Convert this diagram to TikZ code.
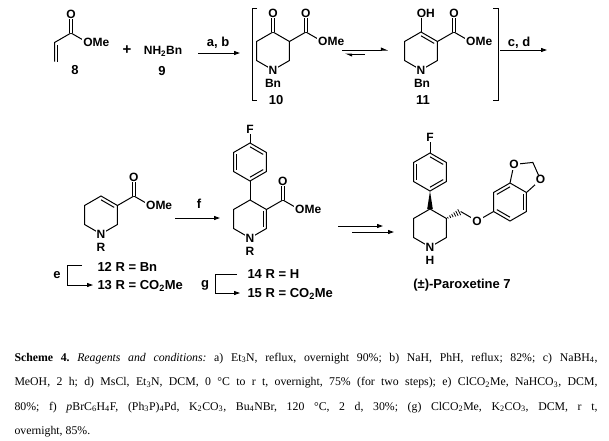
\documentclass[tikz,border=0pt]{standalone}
\usepackage{fontspec}
\setmainfont{Liberation Serif}
\newfontfamily\chemsans{Liberation Sans}
\usetikzlibrary{calc, arrows.meta, positioning}
\newcommand{\molfont}{\chemsans\bfseries\fontsize{12}{14}\selectfont}
\newcommand{\labfont}{\chemsans\bfseries\fontsize{13}{15}\selectfont}

\begin{document}
\begin{tikzpicture}[x=1pt, y=1pt, line width=1pt,
  atom/.style={fill=white, inner sep=1pt, font=\molfont},
  grp/.style={atom, anchor=west, xshift=-5.7pt},
  sub/.style={inner sep=0pt, font=\molfont},
  lab/.style={inner sep=0pt, font=\labfont},
  rxn/.style={-{Triangle[length=6pt,width=4pt]}},
  eqarrow/.style={-{Triangle[harpoon,length=6pt,width=5pt]}},
  dbl/.style={double, double distance=2.4pt}]
\useasboundingbox (0,0) rectangle (609,-440);

% ring atoms
\foreach \r/\cx/\cy in {A/273/-51, B/421/-51, C/101/-215, D/250/-219, E/250/-162, F/430/-228, G/430/-172, H/510/-202}{
  \coordinate (\r) at (\cx,\cy);
  \foreach \i/\a in {1/90, 2/30, 3/-30, 4/-90, 5/-150, 6/150}
    \coordinate (\r\i) at ($(\cx,\cy)+(\a:19)$);
}

% 8
\coordinate (c8a) at (71,-33); \coordinate (c8b) at ($(c8a)+(210:19)$); \coordinate (c8c) at ($(c8b)+(0,-19)$);
\coordinate (o8) at ($(c8a)+(0,19)$); \coordinate (me8) at ($(c8a)+(-30:19)$);
\draw (c8c) -- (c8b) -- (c8a) -- (me8);
\draw ($(c8b)+(3.4,-2.5)$) -- ($(c8c)+(3.4,0)$);
\draw[dbl] (c8a) -- (o8);
\node[atom] at (o8) {O}; \node[grp] at (me8) {OMe};
\node[lab] (n8) at (75,-70) {8};
\node[lab, font=\chemsans\bfseries\fontsize{15}{15}\selectfont] (plus) at (127,-50) {+};
\node[sub] (amine) at (163,-51) {NH\textsubscript{2}Bn};
\node[lab] (n9) at (162,-71) {9};

% a, b
\coordinate (ab1) at (198,-53); \coordinate (ab2) at (240,-53);
\draw[rxn] (ab1) -- (ab2);
\node[lab] (ab) at (218,-43) {a, b};

% brackets
\draw (257,-8) -- (252,-8) -- (252,-100) -- (257,-100);
\draw (493,-8) -- (498,-8) -- (498,-100) -- (493,-100);

% 10
\draw (A1) -- (A2) -- (A3) -- (A4) -- (A5) -- (A6) -- cycle;
\coordinate (k10) at ($(A1)+(0,19)$); \coordinate (e10) at ($(A2)+(30:19)$);
\coordinate (eo10) at ($(e10)+(0,19)$); \coordinate (em10) at ($(e10)+(-30:19)$);
\draw[dbl] (A1) -- (k10); \draw (A2) -- (e10) -- (em10); \draw[dbl] (e10) -- (eo10);
\node[atom] at (k10) {O}; \node[atom] at (eo10) {O}; \node[grp] at (em10) {OMe};
\node[atom] at (A4) {N}; \node[sub] at (273,-83) {Bn};
\node[lab] (n10) at (276,-100) {10};

% equilibrium
\coordinate (eq1) at (342,-50); \coordinate (eq2) at (388,-50);
\coordinate (eq3) at (365,-54); \coordinate (eq4) at (345,-54);
\draw[eqarrow] (eq1) -- (eq2); \draw[eqarrow] (eq3) -- (eq4);

% 11
\draw (B1) -- (B2) -- (B3) -- (B4) -- (B5) -- (B6) -- cycle;
\draw ($(B1)!.2!(B)$) -- ($(B2)!.2!(B)$);
\coordinate (oh11) at ($(B1)+(0,19)$); \coordinate (e11) at ($(B2)+(30:19)$);
\coordinate (eo11) at ($(e11)+(0,19)$); \coordinate (em11) at ($(e11)+(-30:19)$);
\draw (B1) -- (oh11); \draw (B2) -- (e11) -- (em11); \draw[dbl] (e11) -- (eo11);
\node[grp] at (oh11) {OH}; \node[atom] at (eo11) {O}; \node[grp] at (em11) {OMe};
\node[atom] at (B4) {N}; \node[sub] at (422,-83) {Bn};
\node[lab] (n11) at (423,-100) {11};

% c, d
\coordinate (cd1) at (500,-50); \coordinate (cd2) at (547,-50);
\draw[rxn] (cd1) -- (cd2);
\node[lab] (cd) at (519,-43) {c, d};

% 12 / 13
\draw (C1) -- (C2) -- (C3) -- (C4) -- (C5) -- (C6) -- cycle;
\draw ($(C1)!.2!(C)$) -- ($(C2)!.2!(C)$);
\coordinate (e12) at ($(C2)+(30:19)$); \coordinate (eo12) at ($(e12)+(0,19)$); \coordinate (em12) at ($(e12)+(-30:19)$);
\draw (C2) -- (e12) -- (em12); \draw[dbl] (e12) -- (eo12);
\node[atom] at (eo12) {O}; \node[grp] at (em12) {OMe};
\node[atom] at (C4) {N}; \node[sub] at (101,-247) {R};
\node[lab, anchor=west] (n12) at (97,-267) {12 R = Bn};
\node[lab, anchor=west] (n13) at (97,-286) {13 R = CO\textsubscript{2}Me};
\coordinate (e1) at (82,-265); \coordinate (e2) at (67,-285); \coordinate (e3) at (93,-285);
\draw[rxn, line width=0.8pt] (e1) -| (e2) -- (e3);
\node[lab] at (57,-275) {e};

% f
\coordinate (f1) at (175,-218); \coordinate (f2) at (220,-218);
\draw[rxn] (f1) -- (f2);
\node[lab] (fl) at (199,-204) {f};

% 14 / 15
\draw (D1) -- (D2) -- (D3) -- (D4) -- (D5) -- (D6) -- cycle;
\draw ($(D2)!.2!(D)$) -- ($(D3)!.2!(D)$);
\draw (E1) -- (E2) -- (E3) -- (E4) -- (E5) -- (E6) -- cycle;
\draw ($(E1)!.2!(E)$) -- ($(E2)!.2!(E)$);
\draw ($(E3)!.2!(E)$) -- ($(E4)!.2!(E)$);
\draw ($(E5)!.2!(E)$) -- ($(E6)!.2!(E)$);
\draw (E4) -- (D1);
\coordinate (fl14) at (250,-129); \draw (E1) -- (fl14);
\coordinate (e14) at ($(D2)+(30:19)$); \coordinate (eo14) at ($(e14)+(0,19)$); \coordinate (em14) at ($(e14)+(-30:19)$);
\draw (D2) -- (e14) -- (em14); \draw[dbl] (e14) -- (eo14);
\node[atom] at (fl14) {F}; \node[atom] at (eo14) {O}; \node[grp] at (em14) {OMe};
\node[atom] at (D4) {N}; \node[sub] at (250,-251) {R};
\node[lab, anchor=west] (n14) at (247,-274) {14 R = H};
\node[lab, anchor=west] (n15) at (247,-294) {15 R = CO\textsubscript{2}Me};
\coordinate (g1) at (237,-274); \coordinate (g2) at (215,-293); \coordinate (g3) at (240,-293);
\draw[rxn, line width=0.8pt] (g1) -| (g2) -- (g3);
\node[lab] at (205,-285) {g};

% multistep
\coordinate (m1) at (338,-226); \coordinate (m2) at (383,-226);
\coordinate (m3) at (352,-232); \coordinate (m4) at (394,-232);
\draw[rxn] (m1) -- (m2); \draw[rxn] (m3) -- (m4);

% paroxetine
\draw (F1) -- (F2) -- (F3) -- (F4) -- (F5) -- (F6) -- cycle;
\draw (G1) -- (G2) -- (G3) -- (G4) -- (G5) -- (G6) -- cycle;
\draw ($(G1)!.2!(G)$) -- ($(G2)!.2!(G)$);
\draw ($(G3)!.2!(G)$) -- ($(G4)!.2!(G)$);
\draw ($(G5)!.2!(G)$) -- ($(G6)!.2!(G)$);
\coordinate (flp) at (430,-137); \draw (G1) -- (flp);
\fill (G4) -- ($(F1)+(-2.8,0)$) -- ($(F1)+(2.8,0)$) -- cycle;
\coordinate (op) at ($(H5)+(210:19)$); \coordinate (ch) at ($(op)+(150:19)$);
\foreach \t in {0.1,0.26,0.42,0.58,0.74,0.9}
  \draw[line width=0.8pt] ($(F2)!\t!(ch)+(116.4:{0.5+3*\t})$) -- ($(F2)!\t!(ch)+(-63.6:{0.5+3*\t})$);
\draw (ch) -- (op) -- (H5);
\draw (H1) -- (H2) -- (H3) -- (H4) -- (H5) -- (H6) -- cycle;
\draw ($(H6)!.2!(H)$) -- ($(H1)!.2!(H)$);
\draw ($(H2)!.2!(H)$) -- ($(H3)!.2!(H)$);
\draw ($(H4)!.2!(H)$) -- ($(H5)!.2!(H)$);
\coordinate (o1) at ($(H1)+(78:19)$); \coordinate (o2) at ($(H2)+(42:19)$); \coordinate (cm) at ($(o1)+(6:19)$);
\draw (H1) -- (o1) -- (cm) -- (o2) -- (H2);
\node[atom] at (flp) {F}; \node[atom] at (op) {O};
\node[atom] at (o1) {O}; \node[atom] at (o2) {O};
\node[atom] at (F4) {N}; \node[sub] at (430,-260) {H};
\node[lab] (n7) at (462,-285) {(±)-Paroxetine 7};

% caption
\node[anchor=base west, text width=583pt, align=justify, inner sep=0pt,
  font=\frenchspacing\fontsize{11.8}{24.5}\selectfont] (cap) at (14,-361)
{\textbf{Scheme 4.} \textit{Reagents and conditions:} a) Et\textsubscript{3}N, reflux, overnight 90\%; b) NaH, PhH, reflux; 82\%; c) NaBH\textsubscript{4},\linebreak
MeOH, 2 h; d) MsCl, Et\textsubscript{3}N, DCM, 0 °C to r t, overnight, 75\% (for two steps); e) ClCO\textsubscript{2}Me, NaHCO\textsubscript{3}, DCM,\linebreak
80\%; f) \textit{p}BrC\textsubscript{6}H\textsubscript{4}F, (Ph\textsubscript{3}P)\textsubscript{4}Pd, K\textsubscript{2}CO\textsubscript{3}, Bu\textsubscript{4}NBr, 120 °C, 2 d, 30\%; (g) ClCO\textsubscript{2}Me, K\textsubscript{2}CO\textsubscript{3}, DCM, r t,\linebreak
overnight, 85\%.};
\end{tikzpicture}
\end{document}
